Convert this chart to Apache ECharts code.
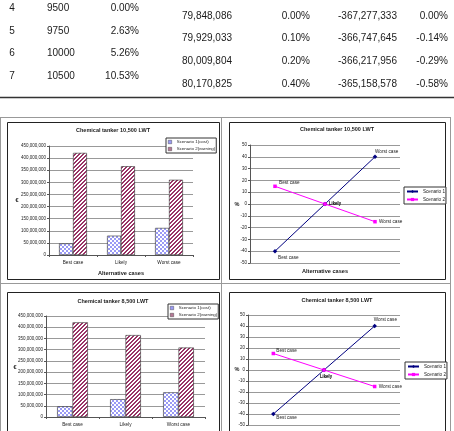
<!DOCTYPE html>
<html><head><meta charset="utf-8">
<script src="https://cdn.jsdelivr.net/npm/echarts@6/dist/echarts.min.js"></script>
<style>html,body{margin:0;padding:0;background:#fff}#c{width:454px;height:431px}</style>
</head><body><div id="c"></div>
<script>
// ---- table data ----
const tblNo = ['4', '5', '6', '7'];
const tblLwt = ['9500', '9750', '10000', '10500'];
const tblLwtPct = ['0.00%', '2.63%', '5.26%', '10.53%'];
const tblCost = ['79,848,086', '79,929,033', '80,009,804', '80,170,825'];
const tblCostPct = ['0.00%', '0.10%', '0.20%', '0.40%'];
const tblEarn = ['-367,277,333', '-366,747,645', '-366,217,956', '-365,158,578'];
const tblEarnPct = ['0.00%', '-0.14%', '-0.29%', '-0.58%'];

// ---- chart data ----
const categories = ['Best case', 'Likely', 'Worst case'];
const cost10500 = [48.0e6, 79.8e6, 111.7e6];
const earn10500 = [421.5e6, 366.5e6, 310.5e6];
const cost8500 = [47.8e6, 79.4e6, 110.0e6];
const earn8500 = [421.8e6, 365.0e6, 309.5e6];
const pctScenario1 = [-40, 0, 40];
const pctScenario2 = [15, 0, -15];
const barNames = ['Scenario 1(cost)', 'Scenario 2(earning)'];
const lineNames = ['Scenario 1', 'Scenario 2'];
const titles = ['Chemical tanker 10,500 LWT', 'Chemical tanker 10,500 LWT', 'Chemical tanker 8,500 LWT', 'Chemical tanker 8,500 LWT'];
const xName = 'Alternative cases';

const FF = '"Liberation Sans", Arial, sans-serif';

function checker() {
  const c = document.createElement('canvas'); c.width = 4; c.height = 4;
  const g = c.getContext('2d');
  g.fillStyle = '#ffffff'; g.fillRect(0, 0, 4, 4);
  g.fillStyle = '#9a9af5'; g.fillRect(0, 0, 2, 2); g.fillRect(2, 2, 2, 2);
  return c;
}
function stripes() {
  const c = document.createElement('canvas'); c.width = 4; c.height = 4;
  const g = c.getContext('2d');
  g.fillStyle = '#ffffff'; g.fillRect(0, 0, 4, 4);
  g.fillStyle = '#993366';
  for (let x = 0; x < 4; x++) for (let y = 0; y < 4; y++) if ((x + y) % 4 < 2) g.fillRect(x, y, 1, 1);
  return c;
}
const patCheck = { image: checker(), repeat: 'repeat' };
const patStripe = { image: stripes(), repeat: 'repeat' };

const G = [];
function txt(x, y, text, font, align, fill) {
  G.push({ type: 'text', x: x, y: y, silent: true,
    style: { text: text, font: font, textAlign: align || 'center', align: align || 'center',
      textVerticalAlign: 'middle', verticalAlign: 'middle', fill: fill || '#1a1a1a' } });
}
function line(x1, y1, x2, y2, color, w) {
  G.push({ type: 'line', silent: true, shape: { x1: x1, y1: y1, x2: x2, y2: y2 }, style: { stroke: color, lineWidth: w } });
}
function rect(x, y, w, h, color) {
  G.push({ type: 'rect', silent: true, shape: { x: x, y: y, width: w, height: h }, style: { fill: 'none', stroke: color, lineWidth: 1 } });
}

// table
const tf = '10px ' + FF;
const rowY1 = [8.5, 31, 53.5, 76];
const rowY2 = [16, 38.5, 61.5, 84.5];
for (let i = 0; i < 4; i++) {
  txt(12, rowY1[i], tblNo[i], tf, 'center');
  txt(47, rowY1[i], tblLwt[i], tf, 'left');
  txt(139, rowY1[i], tblLwtPct[i], tf, 'right');
  txt(182, rowY2[i], tblCost[i], tf, 'left');
  txt(310, rowY2[i], tblCostPct[i], tf, 'right');
  txt(338, rowY2[i], tblEarn[i], tf, 'left');
  txt(448, rowY2[i], tblEarnPct[i], tf, 'right');
}
line(0, 97.5, 454, 97.5, '#333', 1.5);

// cell borders
line(0, 117.5, 451, 117.5, '#999', 1);
line(0, 283.5, 451, 283.5, '#999', 1);
line(0.5, 117, 0.5, 431, '#999', 1);
line(221.5, 117, 221.5, 431, '#999', 1);
line(450.5, 117, 450.5, 431, '#999', 1);
// chart frames
rect(7.5, 122.5, 212, 157, '#222');
rect(229.5, 122.5, 216, 157, '#222');
rect(7.5, 292.5, 212, 160, '#222');
rect(229.5, 292.5, 216, 160, '#222');

// titles and axis names
const tfont = 'bold 5.5px ' + FF;
txt(113, 130, titles[0], tfont);
txt(337, 129, titles[1], tfont);
txt(113, 301, titles[2], tfont);
txt(337, 300, titles[3], tfont);
txt(121, 273, xName, 'bold 5.6px ' + FF);
txt(325, 271, xName, 'bold 5.6px ' + FF);
txt(17, 200, '€', 'bold 5.5px ' + FF);
txt(15, 367, '€', 'bold 5.5px ' + FF);
txt(237, 204, '%', 'bold 5.5px ' + FF);
txt(237, 369, '%', 'bold 5.5px ' + FF);

const small = 4.7;
function barX(idx) {
  return { type: 'category', gridIndex: idx, data: categories,
    axisLine: { lineStyle: { color: '#555', width: 1 } },
    axisTick: { show: true, length: 2, lineStyle: { color: '#555' } },
    axisLabel: { fontSize: small, color: '#222', margin: 5, fontFamily: FF } };
}
function barY(idx) {
  return { type: 'value', gridIndex: idx, min: 0, max: 450e6, interval: 50e6,
    axisLine: { show: true, lineStyle: { color: '#555', width: 1 } },
    axisTick: { show: true, length: 2, lineStyle: { color: '#555' } },
    splitLine: { lineStyle: { color: '#999', width: 1 } },
    axisLabel: { fontSize: 4.5, color: '#222', margin: 3, fontFamily: FF,
      formatter: v => v.toLocaleString('en-US') } };
}
function lineX(idx) {
  return { type: 'category', gridIndex: idx, data: categories, boundaryGap: true,
    axisLine: { show: false }, axisTick: { show: false }, axisLabel: { show: false } };
}
function lineY(idx) {
  return { type: 'value', gridIndex: idx, min: -50, max: 50, interval: 10,
    axisLine: { show: true, lineStyle: { color: '#555', width: 1 } },
    axisTick: { show: true, length: 2, lineStyle: { color: '#555' } },
    splitLine: { lineStyle: { color: '#999', width: 1 } },
    axisLabel: { fontSize: 4.5, color: '#222', margin: 3, fontFamily: FF } };
}
function barSeries(idx, name, data, pat) {
  return { type: 'bar', name: name, xAxisIndex: idx, yAxisIndex: idx, data: data,
    barGap: '0%', barCategoryGap: '42%',
    itemStyle: { color: pat, borderColor: '#333', borderWidth: 0.6 } };
}
function lineSeries(idx, name, data, color, symbol, offsets) {
  return { type: 'line', name: name, xAxisIndex: idx, yAxisIndex: idx,
    symbol: symbol, symbolSize: symbol === 'diamond' ? 4.5 : 3.5,
    lineStyle: { color: color, width: 1 }, itemStyle: { color: color },
    data: data.map((v, i) => ({ value: v, label: { offset: offsets[i] } })),
    label: { show: true, formatter: '{b}', position: 'inside', align: 'left', verticalAlign: 'middle',
      fontSize: small, color: '#222', fontFamily: FF } };
}
function barLegend(left, top) {
  return { data: [
      { name: barNames[0], itemStyle: { color: '#9a9af5', borderColor: '#333', borderWidth: 0.4 } },
      { name: barNames[1], itemStyle: { color: '#b57895', borderColor: '#333', borderWidth: 0.4 } }
    ], left: left, top: top, orient: 'vertical', icon: 'rect',
    itemWidth: 3.5, itemHeight: 3.5, itemGap: 3, padding: [2, 1, 2, 2],
    borderColor: '#333', borderWidth: 1, backgroundColor: '#fff', selectedMode: false,
    textStyle: { fontSize: 4.4, color: '#222', fontFamily: FF } };
}
function lineLegend(left, top) {
  return { data: lineNames, left: left, top: top, orient: 'vertical',
    itemWidth: 11, itemHeight: 4, itemGap: 3, padding: [2, 1, 2, 2],
    borderColor: '#333', borderWidth: 1, backgroundColor: '#fff', selectedMode: false,
    textStyle: { fontSize: 4.6, color: '#222', fontFamily: FF } };
}

const option = {
  animation: false,
  backgroundColor: '#fff',
  textStyle: { fontFamily: FF },
  grid: [
    { left: 49, top: 146, width: 144, height: 109 },
    { left: 250, top: 145, width: 150, height: 118 },
    { left: 46, top: 316, width: 159, height: 101 },
    { left: 248, top: 315, width: 152, height: 110 }
  ],
  xAxis: [barX(0), lineX(1), barX(2), lineX(3)],
  yAxis: [barY(0), lineY(1), barY(2), lineY(3)],
  legend: [barLegend(166, 138), lineLegend(404, 187), barLegend(168, 304), lineLegend(405, 362)],
  series: [
    barSeries(0, barNames[0], cost10500, patCheck),
    barSeries(0, barNames[1], earn10500, patStripe),
    lineSeries(1, lineNames[0], pctScenario1, '#000080', 'diamond', [[3, 7], [4, 0], [0, -5]]),
    lineSeries(1, lineNames[1], pctScenario2, '#ff00ff', 'rect', [[4, -4], [4, 0], [4, 0]]),
    barSeries(2, barNames[0], cost8500, patCheck),
    barSeries(2, barNames[1], earn8500, patStripe),
    lineSeries(3, lineNames[0], pctScenario1, '#000080', 'diamond', [[3, 4], [-4, 7], [-1, -6]]),
    lineSeries(3, lineNames[1], pctScenario2, '#ff00ff', 'rect', [[3, -3], [-4, 7], [4, 0]])
  ],
  graphic: G
};
const chart = echarts.init(document.getElementById('c'), null, { renderer: 'canvas' });
chart.setOption(option);
</script>
</body></html>
